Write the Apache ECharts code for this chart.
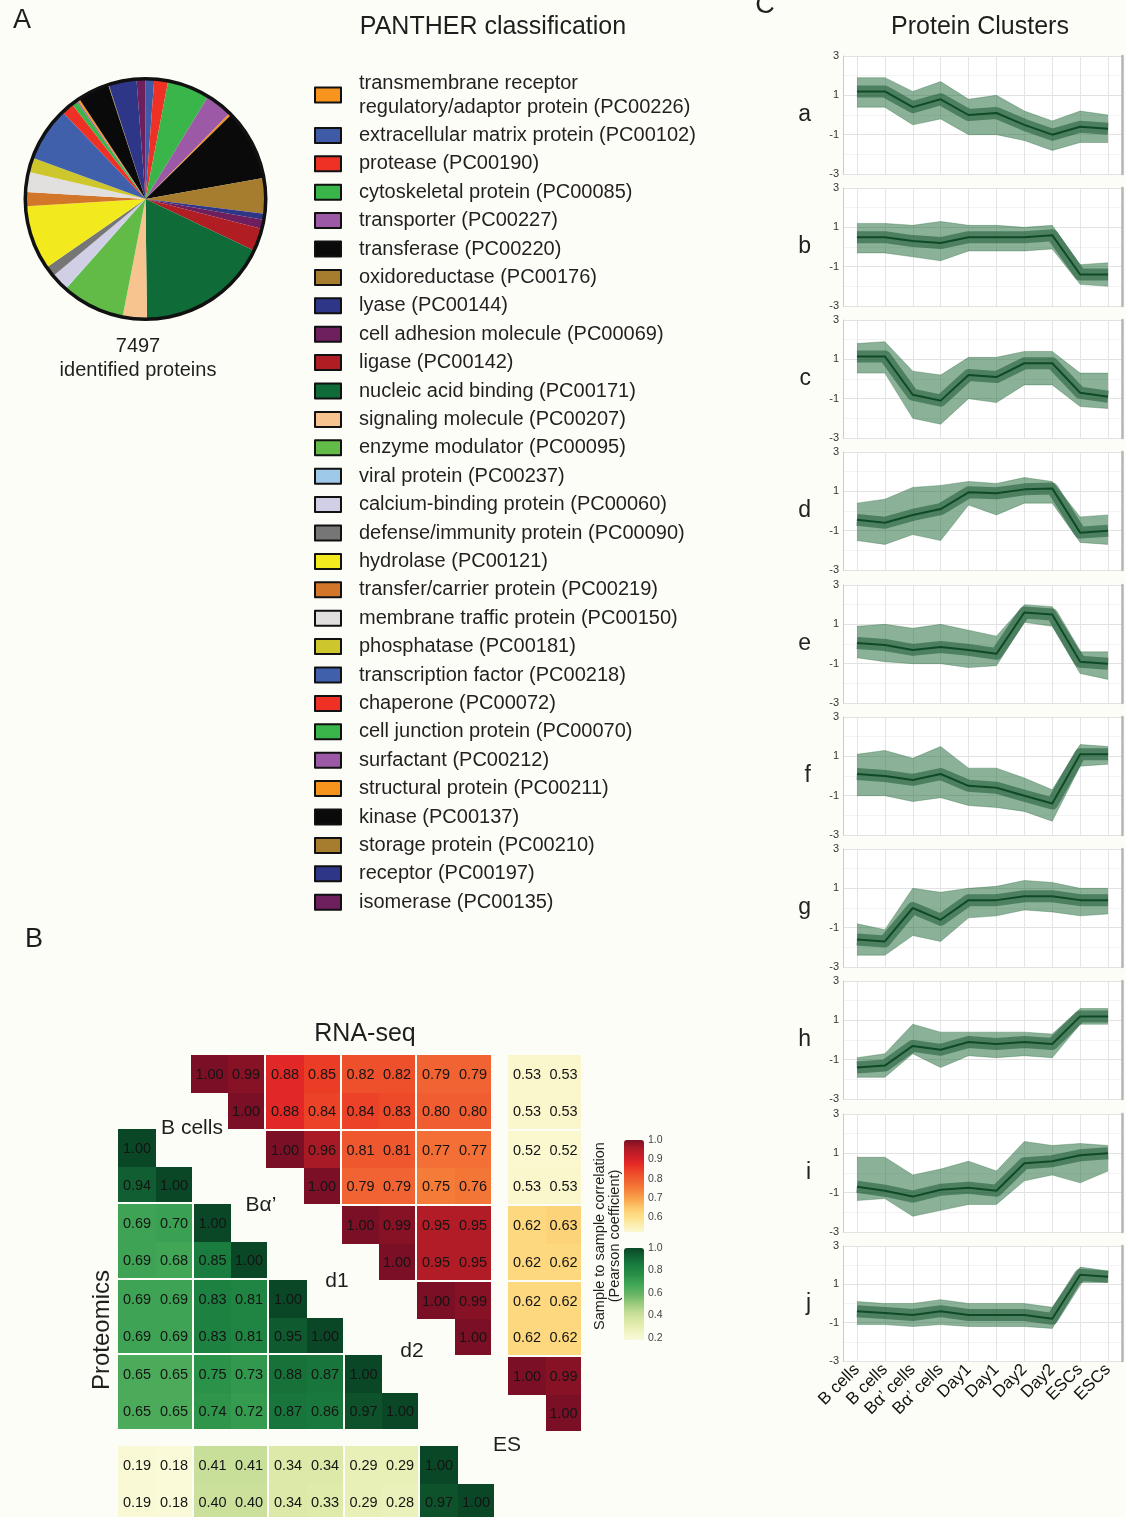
<!DOCTYPE html>
<html><head><meta charset="utf-8">
<script src="https://cdn.jsdelivr.net/npm/echarts@6/dist/echarts.min.js"></script>
<style>html,body{margin:0;padding:0;background:#fdfdf8;}#main{width:1126px;height:1517px;}</style>
</head><body><div id="main"></div>
<script>
// ---------------- DATA ----------------
// Panel A: PANTHER classes (legend order) and colours
const pantherClasses = [
  'transmembrane receptor\nregulatory/adaptor protein (PC00226)',
  'extracellular matrix protein (PC00102)',
  'protease (PC00190)',
  'cytoskeletal protein (PC00085)',
  'transporter (PC00227)',
  'transferase (PC00220)',
  'oxidoreductase (PC00176)',
  'lyase (PC00144)',
  'cell adhesion molecule (PC00069)',
  'ligase (PC00142)',
  'nucleic acid binding (PC00171)',
  'signaling molecule (PC00207)',
  'enzyme modulator (PC00095)',
  'viral protein (PC00237)',
  'calcium-binding protein (PC00060)',
  'defense/immunity protein (PC00090)',
  'hydrolase (PC00121)',
  'transfer/carrier protein (PC00219)',
  'membrane traffic protein (PC00150)',
  'phosphatase (PC00181)',
  'transcription factor (PC00218)',
  'chaperone (PC00072)',
  'cell junction protein (PC00070)',
  'surfactant (PC00212)',
  'structural protein (PC00211)',
  'kinase (PC00137)',
  'storage protein (PC00210)',
  'receptor (PC00197)',
  'isomerase (PC00135)'
];
const pantherColors = [
  '#f7941d','#3f5ba8','#ee3124','#39b54a','#9b59a6','#0a0a0a','#a67c2e','#2e3687',
  '#6e1f5e','#b01e23','#0f6b37','#f7c38e','#62bb46','#9ec9e8','#d0cfe5','#767676',
  '#f2ea1c','#d2762a','#e1e0de','#cdc62d','#4060ab','#ee3124','#39b54a','#9b59a6',
  '#f7941d','#0a0a0a','#a67c2e','#2e3687','#6e1f5e'
];
// estimated protein counts per class (legend order)
const pantherCounts = [21,87,140,427,273,718,358,60,92,231,1331,244,637,6,173,108,650,144,202,146,548,121,54,15,21,321,6,281,90];
// clockwise slice order from 12 o'clock (indices into the arrays above)
const pieSliceOrder = [1,2,3,4,0,5,6,7,8,9,10,11,12,13,14,15,16,17,18,19,20,21,22,23,24,25,26,27,28];

// Panel B: sample-to-sample correlations
const sampleGroups = ['B cells','Bα’','d1','d2','ES'];
const rnaSeqUpper = [ // row i, columns i..9
  [1.00,0.99,0.88,0.85,0.82,0.82,0.79,0.79,0.53,0.53],
  [1.00,0.88,0.84,0.84,0.83,0.80,0.80,0.53,0.53],
  [1.00,0.96,0.81,0.81,0.77,0.77,0.52,0.52],
  [1.00,0.79,0.79,0.75,0.76,0.53,0.53],
  [1.00,0.99,0.95,0.95,0.62,0.63],
  [1.00,0.95,0.95,0.62,0.62],
  [1.00,0.99,0.62,0.62],
  [1.00,0.62,0.62],
  [1.00,0.99],
  [1.00]
];
const proteomicsLower = [ // row i, columns 0..i
  [1.00],
  [0.94,1.00],
  [0.69,0.70,1.00],
  [0.69,0.68,0.85,1.00],
  [0.69,0.69,0.83,0.81,1.00],
  [0.69,0.69,0.83,0.81,0.95,1.00],
  [0.65,0.65,0.75,0.73,0.88,0.87,1.00],
  [0.65,0.65,0.74,0.72,0.87,0.86,0.97,1.00],
  [0.19,0.18,0.41,0.41,0.34,0.34,0.29,0.29,1.00],
  [0.19,0.18,0.40,0.40,0.34,0.33,0.29,0.28,0.97,1.00]
];

// Panel C: protein cluster profiles (z-scores); mid = dense core, lo/hi = band edges
const sampleLabels = ['B cells','B cells','Bα’ cells','Bα’ cells','Day1','Day1','Day2','Day2','ESCs','ESCs'];
const clusterNames = ['a','b','c','d','e','f','g','h','i','j'];
const midA = [1.2,1.2,0.4,0.8,0.0,0.1,-0.5,-1.0,-0.6,-0.7];
const hiA  = [1.9,1.9,1.2,1.7,0.8,1.0,0.2,-0.3,0.2,0.0];
const loA  = [0.4,0.4,-0.5,-0.2,-1.0,-1.0,-1.3,-1.8,-1.4,-1.4];
const midB = [0.5,0.5,0.3,0.2,0.5,0.5,0.5,0.6,-1.4,-1.4];
const hiB  = [1.2,1.2,1.1,1.3,1.1,1.1,1.0,1.1,-0.9,-0.8];
const loB  = [-0.3,-0.3,-0.5,-0.7,-0.2,-0.2,-0.2,-0.1,-1.9,-2.0];
const midC = [1.15,1.15,-0.8,-1.1,0.2,0.1,0.8,0.8,-0.7,-0.9];
const hiC  = [1.8,1.9,0.4,0.2,1.1,1.1,1.4,1.4,0.3,0.3];
const loC  = [0.3,0.3,-2.0,-2.3,-1.0,-1.2,-0.3,-0.3,-1.4,-1.5];
const midD = [-0.45,-0.6,-0.2,0.1,0.95,0.9,1.1,1.15,-1.1,-1.0];
const hiD  = [0.4,0.6,1.2,1.3,1.5,1.4,1.7,1.5,-0.3,-0.2];
const loD  = [-1.5,-1.7,-1.2,-1.5,0.3,-0.2,0.4,0.4,-1.6,-1.7];
const midE = [0.05,-0.05,-0.3,-0.15,-0.3,-0.5,1.6,1.5,-0.9,-1.0];
const hiE  = [0.9,1.0,0.8,1.0,0.7,0.4,2.0,1.9,-0.4,-0.4];
const loE  = [-0.7,-0.9,-1.0,-1.0,-1.2,-1.1,1.1,0.9,-1.5,-1.8];
const midF = [0.1,0.0,-0.2,0.1,-0.5,-0.6,-1.0,-1.4,1.1,1.1];
const hiF  = [1.1,1.3,0.9,1.5,0.4,0.4,-0.1,-0.7,1.6,1.5];
const loF  = [-1.0,-1.0,-1.3,-1.1,-1.5,-1.6,-1.8,-2.3,0.5,0.6];
const midG = [-1.6,-1.7,0.0,-0.6,0.4,0.4,0.6,0.6,0.4,0.4];
const hiG  = [-0.8,-1.1,1.0,0.8,1.0,1.1,1.4,1.3,1.0,1.0];
const loG  = [-2.4,-2.4,-1.4,-1.7,-0.5,-0.4,-0.1,-0.2,-0.4,-0.3];
const midH = [-1.4,-1.3,-0.3,-0.5,-0.1,-0.2,-0.1,-0.2,1.2,1.2];
const hiH  = [-0.9,-0.7,0.8,0.4,0.4,0.4,0.4,0.3,1.6,1.6];
const loH  = [-1.9,-1.9,-0.7,-1.4,-0.8,-0.9,-0.8,-0.9,0.8,0.8];
const midI = [-0.7,-0.9,-1.2,-0.85,-0.75,-0.9,0.5,0.6,0.9,1.0];
const hiI  = [0.8,0.8,-0.1,0.2,0.6,0.1,1.6,1.4,1.5,1.4];
const loI  = [-1.4,-1.3,-2.2,-1.9,-1.6,-1.6,-0.4,-0.1,-0.5,0.1];
const midJ = [-0.4,-0.5,-0.6,-0.4,-0.6,-0.6,-0.6,-0.8,1.5,1.4];
const hiJ  = [0.1,0.0,0.0,0.2,0.0,0.0,0.0,-0.2,1.9,1.7];
const loJ  = [-1.1,-1.1,-1.2,-1.1,-1.2,-1.2,-1.2,-1.3,1.1,1.1];
const clusterMid = [midA,midB,midC,midD,midE,midF,midG,midH,midI,midJ];
const clusterHi  = [hiA,hiB,hiC,hiD,hiE,hiF,hiG,hiH,hiI,hiJ];
const clusterLo  = [loA,loB,loC,loD,loE,loF,loG,loH,loI,loJ];

// ---------------- LAYOUT / STYLE ----------------
const FONT = '"Liberation Sans", Arial, Helvetica, sans-serif';
const TXT = '#1e1e1e';
const GROUP_GAP = 2;        // white gap (px) between sample groups
const ES_OFFSET = 0.4;      // extra spacing (cells) before ES block
const RED_X0 = 1.926;       // x offset (cells) of RNA-seq block
const GREEN_Y0 = 1.96;      // y offset (cells) of proteomics block
const CELL = 37.75;         // px per cell
const clusterTops = [56,188,320,452,585,717,849,981,1114,1246];

const chart = echarts.init(document.getElementById('main'), null, {renderer:'canvas'});

// pie data
const pieData = pieSliceOrder.map(i => ({name: pantherClasses[i], value: pantherCounts[i], itemStyle:{color: pantherColors[i]}}));

// heatmap data
const redData = [];
rnaSeqUpper.forEach((row, i) => row.forEach((v, k) => {
  const j = i + k;
  redData.push([RED_X0 + j + (j >= 8 ? ES_OFFSET : 0), i, v, j % 2, i % 2]);
}));
const greenData = [];
proteomicsLower.forEach((row, i) => row.forEach((v, j) => {
  greenData.push([j, GREEN_Y0 + i + (i >= 8 ? ES_OFFSET : 0), v, j % 2, i % 2]);
}));

function heatRender(params, api) {
  const x = api.value(0), y = api.value(1), v = api.value(2);
  const p0 = api.coord([x, y]);
  const p1 = api.coord([x + 1, y + 1]);
  const x0 = Math.round(p0[0]), y0 = Math.round(p0[1]);
  const w = Math.round(p1[0]) - x0 - (api.value(3) ? GROUP_GAP : 0);
  const h = Math.round(p1[1]) - y0 - (api.value(4) ? GROUP_GAP : 0);
  return {type:'group', children:[
    {type:'rect', shape:{x:x0, y:y0, width:w, height:h}, style:{fill: api.visual('color')}},
    {type:'text', x: x0 + w/2, y: y0 + h/2 + 1, z2: 5, style:{text: v.toFixed(2), fill: '#141414', opacity: 1,
      font: '14.5px ' + FONT, align:'center', verticalAlign:'middle', textAlign:'center', textVerticalAlign:'middle'}}
  ]};
}

// grids
const grids = [], xAxes = [], yAxes = [], series = [];
// grid 0: heatmap
grids.push({left:118, top:1055, width: 13*CELL, height: 12*CELL, containLabel:false});
xAxes.push({gridIndex:0, type:'value', min:0, max:13, show:false});
yAxes.push({gridIndex:0, type:'value', min:0, max:12, inverse:true, show:false});
// grid 1,2: colour-bar tick axes
grids.push({left:624, top:1140, width:20, height:96.84});
xAxes.push({gridIndex:1, type:'value', show:false});
yAxes.push({gridIndex:1, type:'value', min:0.5, max:1.0, interval:0.1, position:'right', z:10,
  axisLine:{show:false}, splitLine:{show:false},
  axisTick:{show:true, inside:true, length:4, lineStyle:{color:'#ffffff', width:1}},
  axisLabel:{showMinLabel:false, fontSize:10.5, color:'#444', fontFamily:FONT, margin:4, formatter: v => v.toFixed(1)}});
grids.push({left:624, top:1248, width:20, height:89.76});
xAxes.push({gridIndex:2, type:'value', show:false});
yAxes.push({gridIndex:2, type:'value', min:0.2, max:1.0, interval:0.2, position:'right', z:10,
  axisLine:{show:false}, splitLine:{show:false},
  axisTick:{show:true, inside:true, length:4, lineStyle:{color:'#ffffff', width:1}},
  axisLabel:{fontSize:10.5, color:'#444', fontFamily:FONT, margin:4, formatter: v => v.toFixed(1)}});

// cluster grids
clusterNames.forEach((nm, k) => {
  const gi = grids.length;
  const last = k === clusterNames.length - 1;
  grids.push({left:843, width:279, top: clusterTops[k], height: last ? 115 : 118,
    show:true, backgroundColor:'#ffffff', borderWidth:0});
  xAxes.push({gridIndex:gi, type:'category', data: sampleLabels, boundaryGap:true,
    axisLine:{show:false}, axisTick:{show:false},
    splitLine:{show:true, alignWithLabel:true, lineStyle:{color:'#e4e4e4', width:1}},
    axisLabel:{show:last, rotate:45, fontSize:17, color:'#111', fontFamily:FONT, margin:6, interval:0}});
  const yLeft = yAxes.length;
  yAxes.push({gridIndex:gi, type:'value', min:-3, max:3, interval:1,
    name: nm, nameLocation:'middle', nameRotate:0, nameGap:32,
    nameTextStyle:{fontSize:23, color:'#222', fontFamily:FONT},
    axisLine:{show:true, lineStyle:{color:'#cccccc', width:1}}, axisTick:{show:false},
    splitLine:{show:true, lineStyle:{color:['#e2e2e2','#f3f3f3'], width:1}},
    axisLabel:{fontSize:11, color:'#333', fontFamily:FONT, margin:4,
      formatter: v => (Math.abs(v) % 2 === 1 ? String(v) : '')}});
  // right-hand frame line of each panel
  yAxes.push({gridIndex:gi, type:'value', min:-3, max:3, position:'right',
    axisLine:{show:true, lineStyle:{color:'#b4b4b4', width:2.5}}, axisTick:{show:false},
    axisLabel:{show:false}, splitLine:{show:false}});
  const lo = clusterLo[k], hi = clusterHi[k], mid = clusterMid[k];
  const common = {type:'line', xAxisIndex:gi, yAxisIndex:yLeft, symbol:'none', silent:true, animation:false};
  series.push(Object.assign({}, common, {data: lo, stack:'band'+k, stackStrategy:'all',
    lineStyle:{width:0.8, color:'rgba(30,100,55,0.4)'}}));
  series.push(Object.assign({}, common, {data: hi.map((h, t) => +(h - lo[t]).toFixed(3)), stack:'band'+k, stackStrategy:'all',
    lineStyle:{width:0.8, color:'rgba(30,100,55,0.4)'}, areaStyle:{color:'rgba(32,105,58,0.52)', opacity:1}}));
  series.push(Object.assign({}, common, {data: mid,
    lineStyle:{width:12, color:'rgba(16,80,40,0.5)', cap:'butt', join:'round'}}));
  series.push(Object.assign({}, common, {data: mid,
    lineStyle:{width:2, color:'#0f4a26', join:'round'}}));
});

// heatmap series
const redSeriesIndex = series.length;
series.push({type:'custom', name:'RNA-seq', xAxisIndex:0, yAxisIndex:0, data: redData,
  encode:{x:0, y:1}, renderItem: heatRender, silent:true, animation:false, clip:false});
const greenSeriesIndex = series.length;
series.push({type:'custom', name:'Proteomics', xAxisIndex:0, yAxisIndex:0, data: greenData,
  encode:{x:0, y:1}, renderItem: heatRender, silent:true, animation:false, clip:false});

// pie + outline
series.push({type:'pie', center:[145.5,199], radius:[0,119.5], startAngle:90, clockwise:true,
  data: pieData, label:{show:false}, labelLine:{show:false}, silent:true, animation:false,
  itemStyle:{borderWidth:0}, avoidLabelOverlap:false});
series.push({type:'pie', center:[145.5,199], radius:[118.5,122], data:[{name:'outline', value:1, itemStyle:{color:'#111'}}],
  label:{show:false}, labelLine:{show:false}, silent:true, animation:false});

function t(text, x, y, size, extra) {
  return Object.assign({type:'text', x:x, y:y, z:20, style:{text:text, fill:TXT, font: size + 'px ' + FONT,
    align:'center', verticalAlign:'middle', textAlign:'center', textVerticalAlign:'middle'}}, extra || {});
}

const option = {
  backgroundColor:'#fdfdf8',
  animation:false,
  textStyle:{fontFamily:FONT},
  grid: grids, xAxis: xAxes, yAxis: yAxes,
  legend: {orient:'vertical', left:314, top:71, padding:0, itemWidth:26, itemHeight:15, itemGap:4.4,
    icon:'rect', selectedMode:false, data: pantherClasses,
    itemStyle:{borderColor:'#111', borderWidth:2},
    textStyle:{fontSize:20, lineHeight:24, color:'#231f20', fontFamily:FONT, padding:[0,0,0,13]}},
  visualMap: [
    {type:'continuous', seriesIndex: redSeriesIndex, dimension:2, min:0.525, max:1.0,
     left:624, top:1140, itemWidth:20, itemHeight:92, padding:0, calculable:false, z:2,
     inRange:{color:['#fbf8d0','#fbf1bc','#fce8a2','#fde08a','#fdd67c','#fdc86c','#fbb35a','#f9a14b','#f78e40','#f57c38',
                     '#f26c35','#f05d30','#ee4d2a','#eb3c26','#e52a26','#d82027','#c51d27','#b21c26','#9a1727','#7b0f26']}},
    {type:'continuous', seriesIndex: greenSeriesIndex, dimension:2, min:0.18, max:1.0,
     left:624, top:1248, itemWidth:20, itemHeight:92, padding:0, calculable:false, z:2,
     inRange:{color:['#fafad9','#eef3bf','#dce9a7','#c3dd96','#98c97b','#66b464','#43a858','#2a9148','#1c8040','#126635','#0a4726']}}
  ],
  graphic: [
    t('A', 22, 21, 27), t('B', 34, 940, 27), t('C', 765, 6, 27),
    t('PANTHER classification', 493, 27, 25),
    t('7497', 138, 346, 20), t('identified proteins', 138, 370, 20),
    t('Protein Clusters', 980, 27, 25),
    t('RNA-seq', 365, 1034, 25),
    t('Proteomics', 102, 1330, 24, {rotation: Math.PI/2}),
    t(sampleGroups[0], 192, 1128, 21), t(sampleGroups[1], 261, 1205, 21), t(sampleGroups[2], 337, 1281, 21),
    t(sampleGroups[3], 412, 1351, 21), t(sampleGroups[4], 507, 1445, 21),
    t('Sample to sample correlation\n(Pearson coefficient)', 607, 1236, 14.5, {rotation: Math.PI/2})
  ],
  series: series
};
chart.setOption(option);
</script></body></html>
